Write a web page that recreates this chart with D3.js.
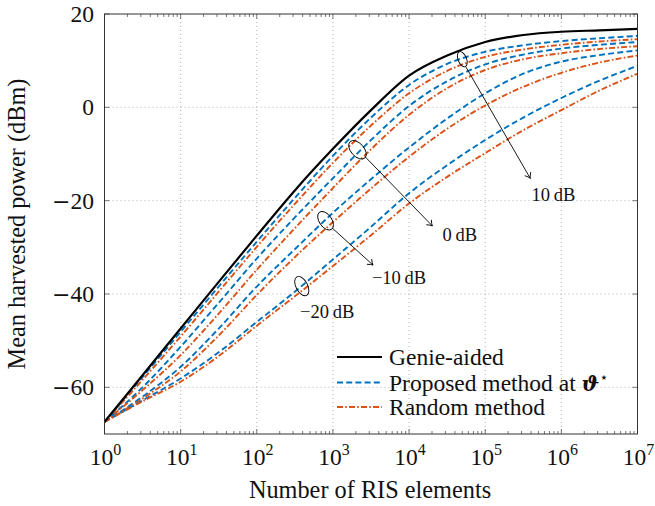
<!DOCTYPE html>
<html>
<head>
<meta charset="utf-8">
<script src="https://cdn.jsdelivr.net/npm/d3@7"></script>
<style>
  html, body { margin: 0; padding: 0; background: #fff; }
  svg { display: block; }
  text { font-family: "Liberation Serif", "Times New Roman", serif; fill: #111; }
</style>
</head>
<body>
<svg id="chart" width="655" height="506"></svg>
<script>
// ---------------- data ----------------
const nElements = [1, 3.162, 10, 31.62, 100, 316.2, 1000, 3162, 1e4, 31620, 1e5, 316200, 1e6, 3162000, 1e7];

const genieAided    = [-67.4, -57.4, -47.4, -37.4, -27.5, -17.8, -8.9, -0.6, 6.8, 11.1, 14.0, 15.5, 16.2, 16.5, 16.8];

const proposed10dB  = [-67.4, -57.8, -48.1, -38.4, -28.8, -19.4, -10.4, -2.2, 4.8, 9.3, 11.9, 13.3, 14.2, 14.8, 15.3];
const random10dB    = [-67.4, -58.4, -49.1, -39.5, -29.9, -20.7, -11.9, -3.9, 3.0, 7.8, 10.8, 12.4, 13.4, 14.1, 14.6];
const proposed0dB   = [-67.4, -60.0, -51.3, -41.9, -32.4, -23.6, -15.2, -7.0, 0.3, 5.6, 9.2, 11.3, 12.6, 13.4, 14.0];
const random0dB     = [-67.4, -60.6, -53.1, -44.2, -34.8, -25.9, -17.3, -9.0, -1.6, 4.1, 8.0, 10.3, 11.6, 12.5, 13.1];
const proposedM10dB = [-67.4, -62.0, -55.6, -47.4, -38.4, -30.4, -22.6, -15.4, -8.6, -2.4, 3.0, 7.2, 9.8, 11.2, 12.2];
const randomM10dB   = [-67.4, -62.4, -56.6, -48.9, -40.2, -32.1, -24.6, -17.4, -10.6, -4.6, 0.4, 4.4, 7.4, 9.6, 11.1];
const proposedM20dB = [-67.4, -62.8, -58.1, -52.5, -46.0, -39.5, -32.6, -25.6, -18.4, -12.4, -7.0, -2.2, 2.0, 5.7, 8.9];
const randomM20dB   = [-67.4, -63.0, -58.8, -53.3, -46.8, -40.5, -34.0, -27.4, -20.6, -14.9, -9.8, -4.9, -0.6, 3.6, 7.2];

const xTickExponents = [0, 1, 2, 3, 4, 5, 6, 7];
const yTickValues = [20, 0, -20, -40, -60];
const legendLabels = ["Genie-aided", "Proposed method at ", "Random method"];
const snrLabels = ["10\u2009dB", "0\u2009dB", "\u221210\u2009dB", "\u221220\u2009dB"];

// ---------------- layout ----------------
const svg = d3.select("#chart");
const plot = { left: 104.5, right: 637.5, top: 14, bottom: 434 };

const x = d3.scaleLog().domain([1, 1e7]).range([plot.left, plot.right]);
const y = d3.scaleLinear().domain([-70, 20]).range([plot.bottom, plot.top]);

const BLUE = "#0072BD", ORANGE = "#D95319";
const DASH = "6,3.2", DASHDOT = "6,2.2,1.6,2.2";

// grid
const grid = svg.append("g");
xTickExponents.slice(1, -1).forEach(e => {
  grid.append("line")
    .attr("x1", x(Math.pow(10, e))).attr("x2", x(Math.pow(10, e)))
    .attr("y1", plot.top).attr("y2", plot.bottom)
    .attr("stroke", "#a8a8a8").attr("stroke-width", 0.9).attr("stroke-dasharray", "1,3");
});
yTickValues.filter(v => v > -70 && v < 20).forEach(v => {
  grid.append("line")
    .attr("x1", plot.left).attr("x2", plot.right)
    .attr("y1", y(v)).attr("y2", y(v))
    .attr("stroke", "#a8a8a8").attr("stroke-width", 0.9).attr("stroke-dasharray", "1,3");
});

// ticks (inward, mirrored)
const ticks = svg.append("g").attr("stroke", "#555").attr("stroke-width", 0.8);
xTickExponents.forEach(e => {
  const px = x(Math.pow(10, e));
  ticks.append("line").attr("x1", px).attr("x2", px).attr("y1", plot.bottom).attr("y2", plot.bottom - 5);
  ticks.append("line").attr("x1", px).attr("x2", px).attr("y1", plot.top).attr("y2", plot.top + 5);
  if (e < 7) {
    for (let m = 2; m <= 9; m++) {
      const mx = x(m * Math.pow(10, e));
      ticks.append("line").attr("x1", mx).attr("x2", mx).attr("y1", plot.bottom).attr("y2", plot.bottom - 3);
      ticks.append("line").attr("x1", mx).attr("x2", mx).attr("y1", plot.top).attr("y2", plot.top + 3);
    }
  }
});
yTickValues.forEach(v => {
  const py = y(v);
  ticks.append("line").attr("x1", plot.left).attr("x2", plot.left + 5).attr("y1", py).attr("y2", py);
  ticks.append("line").attr("x1", plot.right).attr("x2", plot.right - 5).attr("y1", py).attr("y2", py);
});

// curves
const series = [
  { v: proposed10dB, c: BLUE, d: DASH },
  { v: random10dB, c: ORANGE, d: DASHDOT },
  { v: proposed0dB, c: BLUE, d: DASH },
  { v: random0dB, c: ORANGE, d: DASHDOT },
  { v: proposedM10dB, c: BLUE, d: DASH },
  { v: randomM10dB, c: ORANGE, d: DASHDOT },
  { v: proposedM20dB, c: BLUE, d: DASH },
  { v: randomM20dB, c: ORANGE, d: DASHDOT },
  { v: genieAided, c: "#000", d: null }
];
const line = d3.line().x(d => x(d[0])).y(d => y(d[1])).curve(d3.curveMonotoneX);
const defs = svg.append("defs");
defs.append("clipPath").attr("id", "clip")
  .append("rect").attr("x", plot.left).attr("y", plot.top)
  .attr("width", plot.right - plot.left).attr("height", plot.bottom - plot.top);
const curves = svg.append("g").attr("clip-path", "url(#clip)");
series.forEach(s => {
  curves.append("path")
    .attr("d", line(nElements.map((n, i) => [n, s.v[i]])))
    .attr("fill", "none").attr("stroke", s.c)
    .attr("stroke-width", s.d ? 1.9 : 2.2)
    .attr("stroke-dasharray", s.d);
});

// frame
svg.append("rect").attr("x", plot.left).attr("y", plot.top)
  .attr("width", plot.right - plot.left).attr("height", plot.bottom - plot.top)
  .attr("fill", "none").attr("stroke", "#333").attr("stroke-width", 1);

// tick labels
xTickExponents.forEach(e => {
  const t = svg.append("text")
    .attr("x", x(Math.pow(10, e)) + 1).attr("y", 465)
    .attr("text-anchor", "middle").style("font-size", "23.5px");
  t.append("tspan").text("10");
  t.append("tspan").attr("dy", -10).style("font-size", "16px").text(String(e));
});
yTickValues.forEach(v => {
  const t = svg.append("text")
    .attr("x", 94).attr("y", y(v) + 8)
    .attr("text-anchor", "end").style("font-size", "23.5px");
  if (v < 0) {
    t.append("tspan").style("font-family", "'DejaVu Serif', serif").style("font-size", "22px").text("\u2212");
  }
  t.append("tspan").text(String(Math.abs(v)));
});

// axis titles
svg.append("text").attr("x", 370).attr("y", 498)
  .attr("text-anchor", "middle").style("font-size", "24.3px")
  .text("Number of RIS elements");
svg.append("text")
  .attr("transform", "translate(25,224) rotate(-90)")
  .attr("text-anchor", "middle").style("font-size", "24.3px")
  .text("Mean harvested power (dBm)");

// legend
const legendStyles = [
  { c: "#000", d: null },
  { c: BLUE, d: DASH },
  { c: ORANGE, d: DASHDOT }
];
const legendRows = [357, 382.5, 407];
legendLabels.forEach((lab, i) => {
  svg.append("line")
    .attr("x1", 337).attr("x2", 382)
    .attr("y1", legendRows[i]).attr("y2", legendRows[i])
    .attr("stroke", legendStyles[i].c).attr("stroke-width", 2)
    .attr("stroke-dasharray", legendStyles[i].d);
  const t = svg.append("text").attr("x", 389).attr("y", legendRows[i] + 8)
    .style("font-size", "23.5px").text(lab);
  if (i === 1) {
    t.append("tspan").style("font-weight", "bold").style("font-style", "italic")
      .style("font-family", "'DejaVu Serif', serif").style("font-size", "21px").text("\u03D1");
    t.append("tspan").attr("dy", -9).style("font-size", "14px")
      .style("font-family", "'DejaVu Sans', sans-serif").text("\u22C6");
  }
});

// annotations (ellipses, arrows, labels), positioned in data units
defs.append("marker").attr("id", "arrow").attr("viewBox", "-6 -5 8 10")
  .attr("refX", 0).attr("refY", 0).attr("markerWidth", 8).attr("markerHeight", 10)
  .attr("markerUnits", "userSpaceOnUse").attr("orient", "auto")
  .append("path").attr("d", "M-5,-3.5 Q-2,-0.8 0,0 Q-2,0.8 -5,3.5")
  .attr("fill", "none").attr("stroke", "#000").attr("stroke-width", 0.9);

const ann = svg.append("g");
const ellipses = [
  { n: 5.0e4, v: 10.3, rx: 8, ry: 4.2, rot: 68 },
  { n: 2.1e3, v: -9.1, rx: 11, ry: 6.5, rot: 48 },
  { n: 8.0e2, v: -24.3, rx: 10.5, ry: 6.2, rot: 55 },
  { n: 3.9e2, v: -38.3, rx: 10.5, ry: 5.8, rot: 62 }
];
ellipses.forEach(e => {
  ann.append("ellipse")
    .attr("transform", `translate(${x(e.n)},${y(e.v)}) rotate(${e.rot})`)
    .attr("rx", e.rx).attr("ry", e.ry)
    .attr("fill", "none").attr("stroke", "#000").attr("stroke-width", 0.9);
});
const arrows = [
  { n1: 5.6e4, v1: 8.6, n2: 3.9e5, v2: -15.2 },
  { n1: 2.65e3, v1: -10.6, n2: 2.02e4, v2: -25.4 },
  { n1: 9.7e2, v1: -25.8, n2: 3.36e3, v2: -33.8 }
];
arrows.forEach(a => {
  ann.append("line")
    .attr("x1", x(a.n1)).attr("y1", y(a.v1)).attr("x2", x(a.n2)).attr("y2", y(a.v2))
    .attr("stroke", "#000").attr("stroke-width", 0.9).attr("marker-end", "url(#arrow)");
});
const labelPos = [
  { n: 4.05e5, v: -20.1 },
  { n: 2.75e4, v: -28.6 },
  { n: 3.25e3, v: -37.8 },
  { n: 3.7e2, v: -45.2 }
];
snrLabels.forEach((s, i) => {
  ann.append("text").attr("x", x(labelPos[i].n)).attr("y", y(labelPos[i].v))
    .style("font-size", "18.5px").text(s);
});
</script>
</body>
</html>
